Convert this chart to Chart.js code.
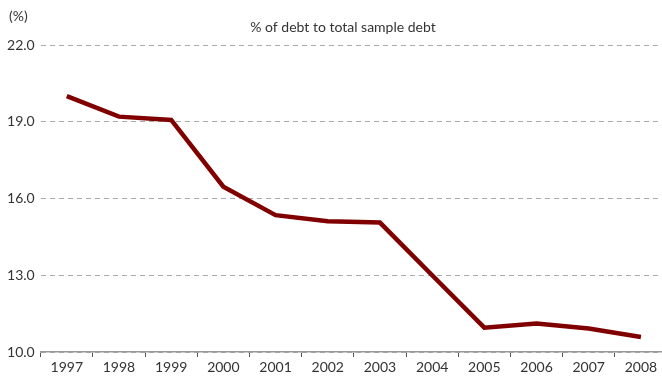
<!DOCTYPE html>
<html>
<head>
<meta charset="utf-8">
<script src="https://cdn.jsdelivr.net/npm/chart.js@4"></script>
<style>
  html, body { margin: 0; padding: 0; background: #fff; }
  .wrap { width: 662px; height: 376px; overflow: hidden; }
  .wrap div { width: 667px; height: 376px; }
</style>
</head>
<body>
<div class="wrap"><div><canvas id="debtChart"></canvas></div></div>
<script>
// data
const years = ['1997', '1998', '1999', '2000', '2001', '2002', '2003', '2004', '2005', '2006', '2007', '2008'];
const debtShare = [20.0, 19.2, 19.07, 16.46, 15.35, 15.11, 15.06, 13.0, 10.95, 11.11, 10.92, 10.59];
const yTicks = [10, 13, 16, 19, 22];

const chartTitle = '% of debt to total sample debt';
const unitLabel = '(%)';

// teks judul + satuan digambar manual
const labelsPlugin = {
  id: 'labels',
  afterDraw(chart) {
    const ctx = chart.ctx;
    ctx.save();
    ctx.fillStyle = '#333';
    ctx.font = '14px Lato';
    ctx.textBaseline = 'middle';
    ctx.textAlign = 'center';
    ctx.fillText(chartTitle, 343, 27);
    ctx.textAlign = 'left';
    ctx.fillText(unitLabel, 9, 16);
    ctx.restore();
  }
};

const ctx = document.getElementById('debtChart').getContext('2d');

new Chart(ctx, {
  type: 'line',
  data: {
    labels: years,
    datasets: [{
      data: debtShare,
      borderColor: '#800000',
      borderWidth: 4.5,
      pointRadius: 0,
      tension: 0,
      fill: false,
    }]
  },
  options: {
    responsive: true,
    maintainAspectRatio: false,
    animation: false,
    layout: { padding: { top: 45, right: 0, left: 0, bottom: 0 } },
    plugins: {
      legend: { display: false },
      tooltip: { enabled: false }
    },
    scales: {
      x: {
        offset: true,
        grid: {
          offset: true,
          drawOnChartArea: false,
          drawTicks: true,
          tickLength: 5,
          color: '#555',
          lineWidth: 1
        },
        border: { color: '#999', width: 1.5 },
        ticks: {
          color: '#333',
          font: { family: 'Lato', size: 14 },
          padding: 2,
          maxRotation: 0,
          autoSkip: false
        },
        afterFit(scale) { scale.height = 24; }
      },
      y: {
        min: 10,
        max: 22,
        afterBuildTicks(scale) {
          scale.ticks = yTicks.map(v => ({ value: v }));
        },
        grid: {
          color: '#aaa',
          lineWidth: 1,
          drawTicks: false
        },
        border: { display: false, dash: [5, 4] },
        ticks: {
          color: '#333',
          font: { family: 'Lato', size: 14 },
          padding: 6,
          callback: v => v.toFixed(1)
        },
        afterFit(scale) { scale.width = 40.7; }
      }
    }
  },
  plugins: [labelsPlugin]
});
</script>
</body>
</html>
